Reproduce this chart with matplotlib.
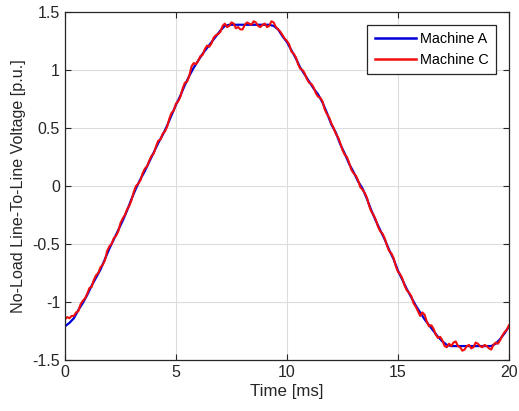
import numpy as np
import matplotlib
matplotlib.use("Agg")
import matplotlib.pyplot as plt
from matplotlib.ticker import FormatStrFormatter

# sample times [ms]
time_a = np.linspace(0, 20, 101)   # 0.2 ms step
time_c = np.linspace(0, 20, 201)   # 0.1 ms step

machine_a = [
    -1.21, -1.18, -1.14, -1.07, -1.01, -0.94, -0.86, -0.79, -0.72, -0.63,
    -0.54, -0.46, -0.38, -0.30, -0.21, -0.11, -0.02, 0.06, 0.13, 0.21,
    0.29, 0.37, 0.44, 0.52, 0.61, 0.70, 0.78, 0.87, 0.95, 1.02,
    1.08, 1.14, 1.19, 1.24, 1.29, 1.34, 1.38, 1.39, 1.39, 1.39,
    1.39, 1.39, 1.39, 1.39, 1.39, 1.39, 1.39, 1.38, 1.35, 1.29,
    1.24, 1.17, 1.10, 1.02, 0.96, 0.90, 0.84, 0.79, 0.72, 0.63,
    0.53, 0.46, 0.36, 0.28, 0.19, 0.12, 0.04, -0.02, -0.11, -0.21,
    -0.30, -0.38, -0.46, -0.55, -0.63, -0.73, -0.81, -0.89, -0.96, -1.03,
    -1.09, -1.15, -1.20, -1.25, -1.30, -1.34, -1.37, -1.38, -1.38, -1.38,
    -1.38, -1.38, -1.38, -1.38, -1.38, -1.38, -1.38, -1.36, -1.32, -1.27,
    -1.21,
]

machine_c = [
    -1.15, -1.13, -1.14, -1.12, -1.12, -1.09, -1.08, -1.02, -0.99, -0.97,
    -0.93, -0.88, -0.87, -0.81, -0.77, -0.75, -0.70, -0.68, -0.64, -0.56,
    -0.52, -0.50, -0.45, -0.43, -0.39, -0.32, -0.28, -0.25, -0.20, -0.17,
    -0.12, -0.05, 0.00, 0.02, 0.05, 0.11, 0.15, 0.17, 0.22, 0.26,
    0.28, 0.34, 0.39, 0.40, 0.45, 0.47, 0.51, 0.58, 0.63, 0.65,
    0.71, 0.73, 0.77, 0.84, 0.89, 0.90, 0.95, 1.03, 1.06, 1.05,
    1.08, 1.12, 1.13, 1.18, 1.21, 1.20, 1.23, 1.28, 1.30, 1.31,
    1.33, 1.38, 1.40, 1.37, 1.38, 1.41, 1.40, 1.36, 1.37, 1.35,
    1.35, 1.39, 1.41, 1.40, 1.39, 1.42, 1.41, 1.38, 1.37, 1.39,
    1.40, 1.37, 1.38, 1.42, 1.41, 1.37, 1.35, 1.33, 1.30, 1.27,
    1.25, 1.22, 1.16, 1.14, 1.11, 1.05, 1.01, 1.00, 0.97, 0.92,
    0.89, 0.88, 0.85, 0.80, 0.77, 0.76, 0.73, 0.66, 0.62, 0.59,
    0.54, 0.50, 0.45, 0.42, 0.37, 0.31, 0.27, 0.25, 0.20, 0.14,
    0.11, 0.09, 0.05, -0.01, -0.03, -0.06, -0.10, -0.17, -0.22, -0.25,
    -0.29, -0.35, -0.39, -0.41, -0.45, -0.51, -0.56, -0.58, -0.62, -0.69,
    -0.74, -0.76, -0.80, -0.86, -0.90, -0.92, -0.95, -1.01, -1.04, -1.08,
    -1.12, -1.09, -1.11, -1.17, -1.21, -1.20, -1.23, -1.28, -1.31, -1.30,
    -1.33, -1.38, -1.39, -1.36, -1.38, -1.35, -1.34, -1.38, -1.39, -1.42,
    -1.41, -1.38, -1.37, -1.40, -1.39, -1.35, -1.36, -1.38, -1.39, -1.37,
    -1.38, -1.40, -1.41, -1.37, -1.35, -1.36, -1.33, -1.29, -1.26, -1.24,
    -1.20,
]

x_ticks = [0, 5, 10, 15, 20]
y_ticks = [-1.5, -1, -0.5, 0, 0.5, 1, 1.5]

plt.rcParams['font.family'] = ['Liberation Sans', 'DejaVu Sans']
plt.rcParams['font.size'] = 11.5

fig = plt.figure(figsize=(5.19, 4.11), dpi=100)
ax = fig.add_axes([0.1252, 0.1241, 0.8555, 0.8467])

ax.plot(time_a, machine_a, color=(0, 0, 0.85), lw=1.6, label='Machine A')
ax.plot(time_c, machine_c, color=(0.95, 0.05, 0.05), lw=1.5, label='Machine C')

ax.set_xlim(0, 20)
ax.set_ylim(-1.5, 1.5)
ax.set_xticks(x_ticks)
ax.set_yticks(y_ticks)
ax.yaxis.set_major_formatter(FormatStrFormatter('%g'))
ax.grid(True, color='#dcdcdc', lw=0.8)
ax.set_axisbelow(True)

for s in ax.spines.values():
    s.set_color('#262626')
    s.set_linewidth(0.9)
ax.tick_params(direction='in', top=True, right=True, length=4,
               colors='#262626', labelcolor='#262626', labelsize=11.5)

ax.set_xlabel('Time [ms]', color='#262626', fontsize=12.2, labelpad=3)
ax.set_ylabel('No-Load Line-To-Line Voltage [p.u.]', color='#262626',
              fontsize=11.6, labelpad=5)

leg = ax.legend(loc='upper right', bbox_to_anchor=(0.9707, 0.9626),
                borderaxespad=0, fontsize=10.4,
                fancybox=False, framealpha=1, edgecolor='#262626',
                handlelength=2.85, handletextpad=0.3,
                borderpad=0.5, labelspacing=0.45)
leg.get_frame().set_linewidth(0.9)
for line in leg.get_lines():
    line.set_linewidth(1.8)

fig.savefig('out.png', dpi=100)
